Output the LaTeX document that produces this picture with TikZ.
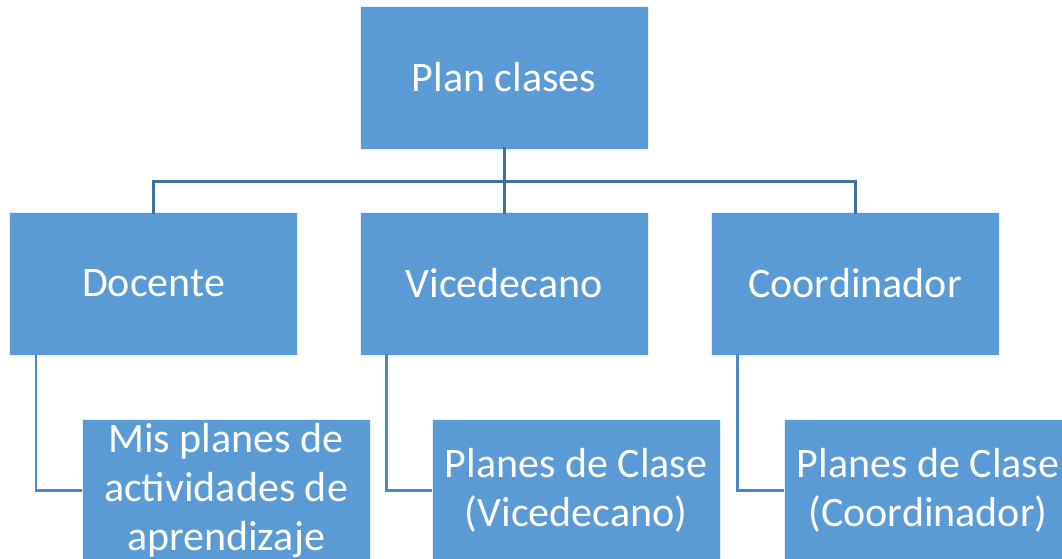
\documentclass[tikz,border=0pt]{standalone}
\usepackage{fontspec}
\setmainfont{Carlito}
\definecolor{boxfill}{HTML}{5B9BD5}
\definecolor{topline}{HTML}{41719C}
\definecolor{subline}{HTML}{4F87C4}
\begin{document}
\begin{tikzpicture}[x=1pt,y=-1pt,
  box/.style={rectangle, fill=boxfill, draw=white!85!boxfill, line width=1pt,
    minimum width=288pt, minimum height=143pt, inner sep=0pt,
    text=white, align=center, font=\fontsize{42}{49}\selectfont},
  topconn/.style={draw=topline, line width=3pt},
  subconn/.style={draw=subline, line width=2.6pt}]
\useasboundingbox (0,0) rectangle (1062,558);
\begin{scope}
\clip (0,0) rectangle (1062,558);
\node[box] (top) at (504,77.5) {Plan clases};
\node[box] (doc) at (153.5,283.5) {Docente};
\node[box] (vice) at (504,283.5) {Vicedecano};
\node[box] (coord) at (855,283.5) {Coordinador};
\node[box] (c1) at (226,490.5) {Mis planes de\\actividades de\\aprendizaje};
\node[box] (c2) at (576,490.5) {Planes de Clase\\(Vicedecano)};
\node[box] (c3) at (928,490.5) {Planes de Clase\\(Coordinador)};
\coordinate (bar) at (504,181);
\draw[topconn] ([yshift=3pt]top.south) -- ([yshift=-2pt]vice.north);
\draw[topconn] ([yshift=-2pt]doc.north) -- (doc.north |- bar) -- (coord.north |- bar) -- ([yshift=-2pt]coord.north);
\draw[subconn] ([xshift=27pt,yshift=2pt]doc.south west) |- (c1.west);
\draw[subconn] ([xshift=27pt,yshift=2pt]vice.south west) |- (c2.west);
\draw[subconn] ([xshift=27pt,yshift=2pt]coord.south west) |- (c3.west);
\end{scope}
\end{tikzpicture}
\end{document}
